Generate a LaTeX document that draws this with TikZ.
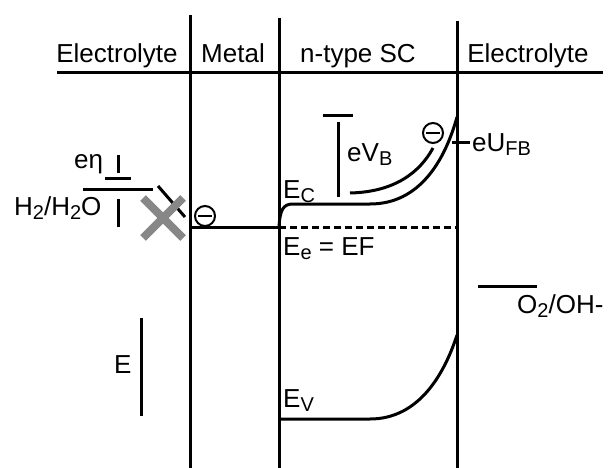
\documentclass[tikz,border=0pt]{standalone}
\usepackage{fontspec}
\setmainfont{Liberation Sans}
\usetikzlibrary{positioning}
\newcommand\lowidx[1]{\raisebox{-4pt}{\fontsize{20}{20}\selectfont #1}}
\definecolor{crossgray}{RGB}{135,135,135}
\tikzset{
  band/.style={line width=3pt},
  lbl/.style={anchor=base west, inner sep=0pt},
  elec/.style={circle, draw, line width=2pt, minimum size=20pt, inner sep=0pt,
    path picture={\draw[line width=2pt] ([xshift=-7pt]path picture bounding box.center)
      -- ([xshift=7pt]path picture bounding box.center);}},
}

\begin{document}
\begin{tikzpicture}[x=1pt, y=-1pt, font=\fontsize{26}{30}\selectfont]
  \useasboundingbox (0,0) rectangle (608,468);

  % interfaces and header line
  \draw[band] (190,15) -- (190,468);
  \draw[band] (279,18) -- (279,468);
  \draw[band] (457,21) -- (457,468);
  \draw[band] (57,73) -- (603,73);

  \node[lbl, anchor=base] (hdElyteL) at (117,63) {Electrolyte};
  \node[lbl, anchor=base] (hdMetal) at (233,63) {Metal};
  \node[lbl, anchor=base] (hdSC) at (358,63) {n-type SC};
  \node[lbl, anchor=base] (hdElyteR) at (528,63) {Electrolyte};

  % redox level H2/H2O
  \draw[band] (83,190) -- (153,190);
  \draw[band] (105,179) -- (131,179);
  \draw[band] (118,155) -- (118,173);
  \draw[band] (118,199) -- (118,227);
  \node[lbl] (lblEta) at (74,169) {eη};
  \node[lbl] (lblH) at (14,215) {H\lowidx{2}/H\lowidx{2}O};
  \draw[band] (158,186) -- (185,217);
  \draw[crossgray, line width=8pt] (143,198) -- (183,238);
  \draw[crossgray, line width=8pt] (183,198) -- (143,238);
  \node[elec] (eMetal) at (205,216) {};

  % Fermi level
  \draw[band] (190,227) -- (279,227);
  \draw[band, dash pattern=on 7pt off 4pt] (279,227) -- (457,227);
  \node[lbl] (lblEF) at (283,255) {E\lowidx{e} = EF};

  % conduction band
  \draw[band] (279,227) .. controls (280,210) and (283,204) .. (293,204)
    -- (370,204) .. controls (420,204) and (445,160) .. (457,117);
  \draw[band] (350,193) .. controls (395,192) and (420,172) .. (433,148);
  \node[elec] (eSC) at (433,133) {};
  \node[lbl] (lblEc) at (283,198) {E\lowidx{C}};
  \draw[band] (323,116) -- (353,116);
  \draw[band] (338,122) -- (338,197);
  \node[lbl] (lblVb) at (347,162) {eV\lowidx{B}};
  \draw[band] (452,143) -- (470,143);
  \node[lbl] (lblUfb) at (472,152) {eU\lowidx{FB}};

  % redox level O2/OH-
  \draw[band] (478,286) -- (537,286);
  \node[lbl] (lblO) at (517,313) {O\lowidx{2}/OH-};

  % energy axis
  \draw[band] (141,318) -- (141,416);
  \node[lbl] (lblE) at (114,373) {E};

  % valence band
  \draw[band] (279,419) -- (370,419) .. controls (420,419) and (445,372) .. (457,335);
  \node[lbl] (lblEv) at (283,407) {E\lowidx{V}};
\end{tikzpicture}
\end{document}
